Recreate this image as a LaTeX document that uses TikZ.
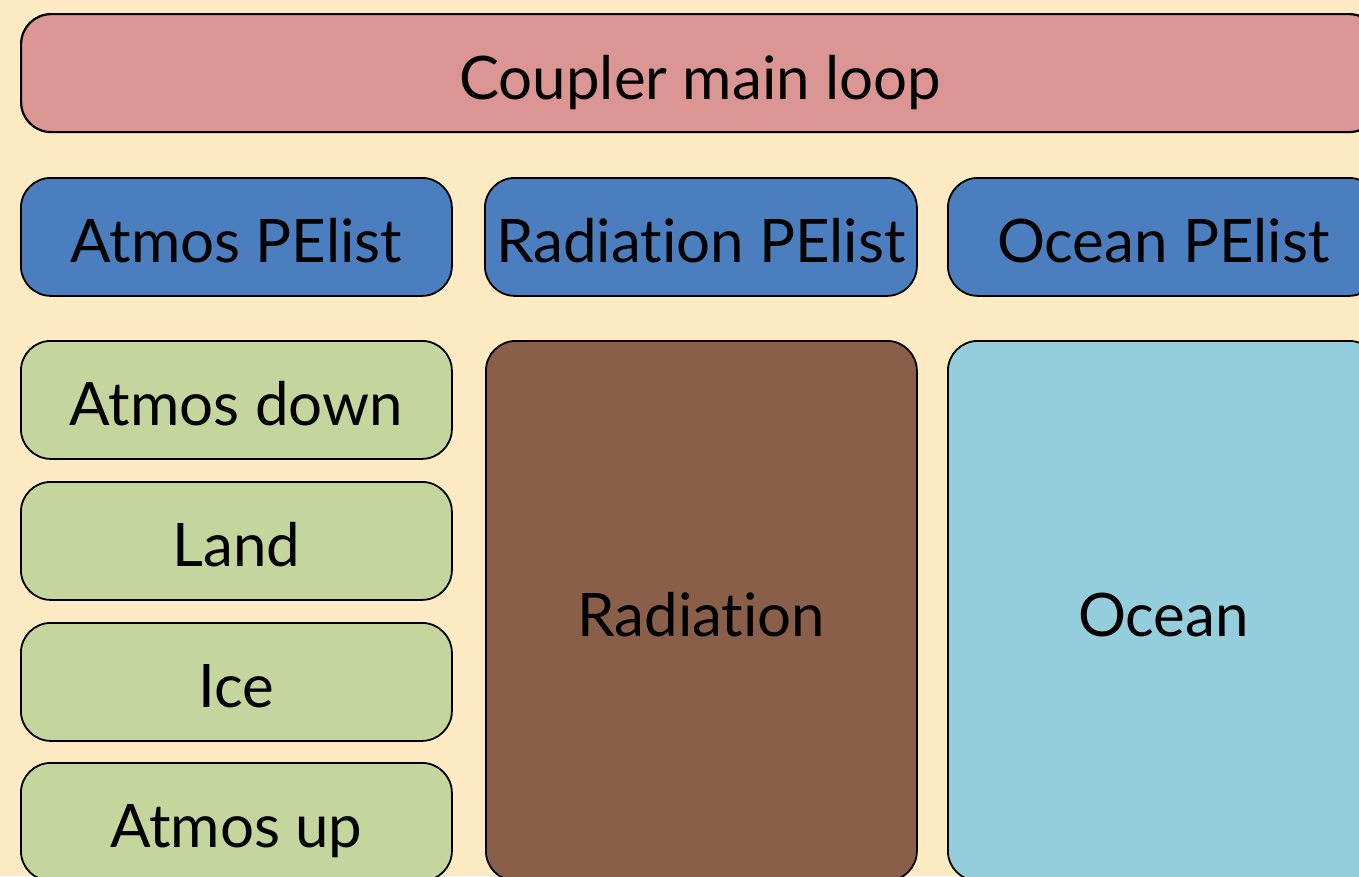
\documentclass[tikz,border=0pt]{standalone}
\usepackage{fontspec}
\setmainfont{Lato}[Ligatures=NoCommon]
\definecolor{bgcream}{RGB}{255,235,195}
\definecolor{couplerred}{RGB}{219,150,148}
\definecolor{pelistblue}{RGB}{74,126,191}
\definecolor{atmosgreen}{RGB}{196,214,157}
\definecolor{radbrown}{RGB}{138,95,74}
\definecolor{oceanblue}{RGB}{148,205,220}
\tikzset{
  panel/.style={draw=black, line width=1.8pt, rounded corners=30pt, inner sep=0pt,
    font=\fontsize{60}{68}\selectfont, text=black, anchor=north west,
    text height=52pt, text depth=0pt},
}
\begin{document}
\begin{tikzpicture}[x=1pt,y=-1pt]
  \useasboundingbox (0,0) rectangle (1359,876);
  \fill[bgcream] (0,0) rectangle (1359,876);
  \clip (0,0) rectangle (1359,876);
  % top bar
  \node[panel, fill=couplerred, line width=2.2pt, minimum width=1358pt, minimum height=118pt]
    (coupler) at (20,13) {Coupler main loop};
  % processor element lists
  \node[panel, fill=pelistblue, minimum width=431pt, minimum height=118pt]
    (atmospe) at (20,177) {Atmos PElist};
  \node[panel, fill=pelistblue, minimum width=432pt, minimum height=118pt]
    (radpe) at (484,177) {Radiation PElist};
  \node[panel, fill=pelistblue, minimum width=431pt, minimum height=118pt]
    (oceanpe) at (947,177) {Ocean PElist};
  % atmosphere column
  \node[panel, fill=atmosgreen, minimum width=431pt, minimum height=118pt]
    (atmosdown) at (20,340) {Atmos down};
  \node[panel, fill=atmosgreen, minimum width=431pt, minimum height=118pt]
    (land) at (20,481) {Land};
  \node[panel, fill=atmosgreen, minimum width=431pt, minimum height=118pt]
    (ice) at (20,622) {Ice};
  \node[panel, fill=atmosgreen, minimum width=431pt, minimum height=118pt]
    (atmosup) at (20,762) {Atmos up};
  % radiation and ocean columns
  \node[panel, fill=radbrown, minimum width=431pt, minimum height=540pt]
    (radiation) at (485,340) {Radiation};
  \node[panel, fill=oceanblue, minimum width=431pt, minimum height=540pt]
    (ocean) at (947,340) {Ocean};
\end{tikzpicture}
\end{document}
